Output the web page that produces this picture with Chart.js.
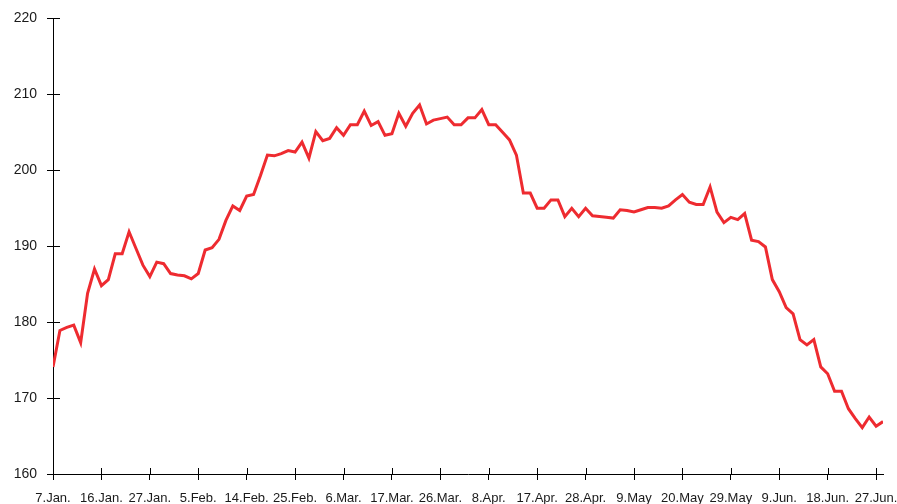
<!DOCTYPE html>
<html>
<head>
<meta charset="utf-8">
<script src="https://cdn.jsdelivr.net/npm/chart.js@4/dist/chart.umd.min.js"></script>
<style>
    html, body { margin: 0; padding: 0; background: #fff; }
    #wrap { width: 897px; height: 504px; }
</style>
</head>
<body>
<div id="wrap"><canvas id="priceChart" width="897" height="504"></canvas></div>
<script>
// One label every 7 trading days (index 0, 7, 14, ...)
const tickLabels = ['7.Jan.', '16.Jan.', '27.Jan.', '5.Feb.', '14.Feb.', '25.Feb.', '6.Mar.', '17.Mar.', '26.Mar.',
    '8.Apr.', '17.Apr.', '28.Apr.', '9.May', '20.May', '29.May', '9.Jun.', '18.Jun.', '27.Jun.'];
const tickEvery = 7;

// Daily values, Jan to end of June
const values = [
    174.1, 178.9, 179.3, 179.6, 177.3, 183.8, 187.0, 184.8, 185.6, 189.0,
    189.0, 191.9, 189.7, 187.5, 186.0, 187.9, 187.7, 186.4, 186.2, 186.1,
    185.7, 186.4, 189.5, 189.8, 190.9, 193.4, 195.3, 194.7, 196.6, 196.8,
    199.3, 202.0, 201.9, 202.2, 202.6, 202.4, 203.7, 201.6, 205.1, 203.9,
    204.2, 205.6, 204.6, 206.0, 206.0, 207.8, 205.9, 206.4, 204.6, 204.8,
    207.5, 205.8, 207.5, 208.6, 206.1, 206.6, 206.8, 207.0, 206.0, 206.0,
    206.9, 206.9, 208.0, 206.0, 206.0, 205.0, 204.0, 202.0, 197.0, 197.0,
    195.0, 195.0, 196.1, 196.1, 193.9, 195.0, 193.9, 195.0, 194.0, 193.9,
    193.8, 193.7, 194.8, 194.7, 194.5, 194.8, 195.1, 195.1, 195.0, 195.3,
    196.1, 196.8, 195.8, 195.5, 195.5, 197.8, 194.5, 193.1, 193.8, 193.5,
    194.3, 190.8, 190.6, 189.9, 185.6, 184.0, 181.9, 181.1, 177.7, 177.0,
    177.7, 174.1, 173.2, 170.9, 170.9, 168.6, 167.3, 166.1, 167.5, 166.3,
    166.9
];

const points = values.map((v, i) => ({ x: i, y: v }));

// small tick stubs on the inside of both axes
const innerTicks = {
    id: 'innerTicks',
    afterDraw(chart) {
        const { ctx, scales: { x, y } } = chart;
        ctx.save();
        ctx.strokeStyle = '#000';
        ctx.lineWidth = 1;
        ctx.beginPath();
        y.ticks.forEach(t => {
            const py = Math.round(y.getPixelForValue(t.value)) + 0.5;
            ctx.moveTo(x.left, py);
            ctx.lineTo(x.left + 7, py);
        });
        x.ticks.forEach(t => {
            const px = Math.round(x.getPixelForValue(t.value)) + 0.5;
            ctx.moveTo(px, y.bottom);
            ctx.lineTo(px, y.bottom - 6);
        });
        ctx.stroke();
        ctx.restore();
    }
};

new Chart(document.getElementById('priceChart'), {
    type: 'line',
    data: {
        datasets: [{
            data: points,
            borderColor: '#ee2b30',
            borderWidth: 3,
            pointRadius: 0,
            tension: 0,
            fill: false
        }]
    },
    options: {
        responsive: false,
        animation: false,
        layout: { padding: { top: 18, right: 14, left: 0, bottom: 0 } },
        plugins: {
            legend: { display: false },
            tooltip: { enabled: false }
        },
        scales: {
            x: {
                type: 'linear',
                min: 0,
                max: values.length - 1,
                border: { color: '#000', width: 1 },
                grid: { drawOnChartArea: false, color: '#000', tickLength: 6 },
                ticks: {
                    stepSize: tickEvery,
                    includeBounds: false,
                    autoSkip: false,
                    maxRotation: 0,
                    padding: 11,
                    color: '#1a1a1a',
                    font: { family: 'Liberation Sans, Arial, sans-serif', size: 13 },
                    callback: v => tickLabels[v / tickEvery] || ''
                },
                afterFit: s => {
                    s.height = 30;
                    s.paddingLeft = 0;
                    s.paddingRight = 0;
                }
            },
            y: {
                min: 160,
                max: 220,
                border: { color: '#000', width: 1 },
                grid: { drawOnChartArea: false, color: '#000', tickLength: 6 },
                ticks: {
                    stepSize: 10,
                    padding: 10,
                    color: '#1a1a1a',
                    font: { family: 'Liberation Sans, Arial, sans-serif', size: 14 }
                },
                afterFit: s => { s.width = 53; }
            }
        }
    },
    plugins: [innerTicks]
});
</script>
</body>
</html>
